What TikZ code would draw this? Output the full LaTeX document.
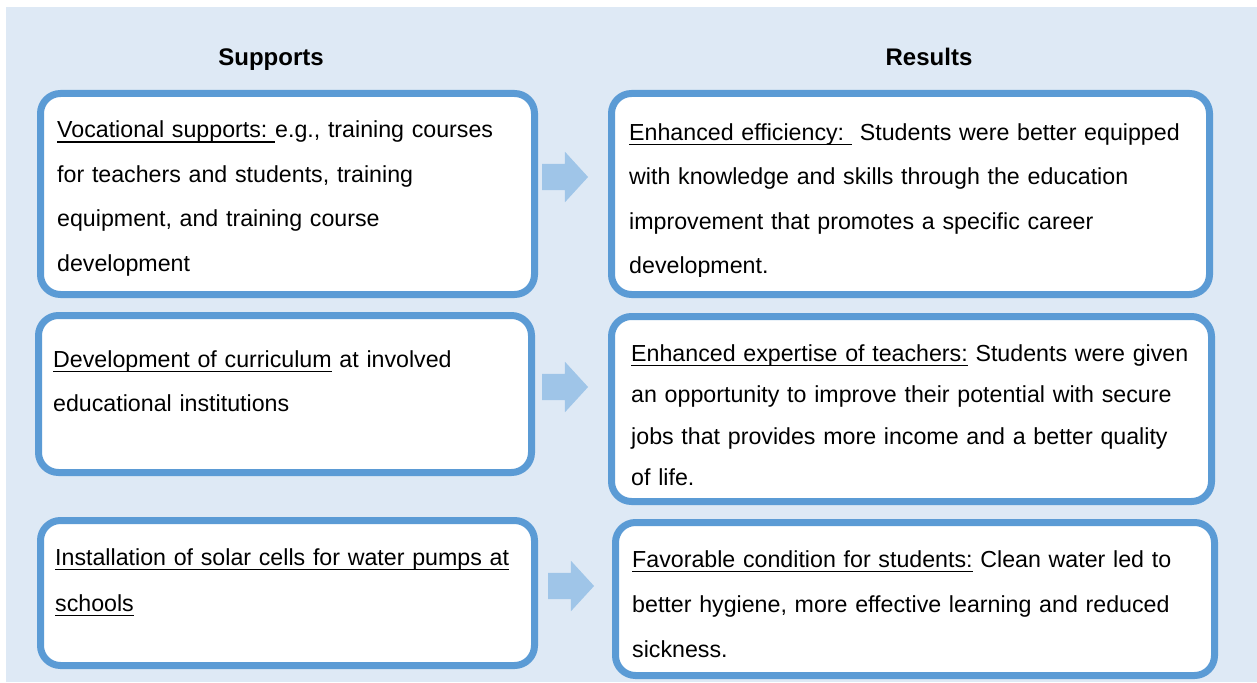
\documentclass[tikz,border=0pt]{standalone}
\usepackage{fontspec}
\setmainfont{Liberation Sans}
\usetikzlibrary{shapes.arrows}

\definecolor{panelblue}{HTML}{DEE9F5}
\definecolor{frameblue}{HTML}{5B9BD5}
\definecolor{arrowblue}{HTML}{9FC5E8}

% underline set a fixed distance below the baseline
\newsavebox{\ulnbox}
\newcommand{\uln}[1]{\leavevmode\sbox{\ulnbox}{#1}%
  \rlap{\rule[-5pt]{\wd\ulnbox}{1.3pt}}\usebox{\ulnbox}}

\tikzset{
  box/.style={draw=frameblue, line width=7pt, fill=white, rounded corners=20pt,
    anchor=north west, inner sep=0pt, outer sep=0pt},
  body/.style={anchor=base west, inner sep=0pt, align=left, text width=640pt,
    font=\fontsize{23.2}{#1}\selectfont},
  body/.default=44.5,
  heading/.style={anchor=base, font=\fontsize{24}{28}\selectfont\bfseries},
  blockarrow/.style={single arrow, fill=arrowblue, draw=none,
    inner xsep=0pt, inner ysep=13pt,
    minimum height=46pt, minimum width=50pt,
    single arrow head extend=12pt, single arrow tip angle=95}
}

\begin{document}
\begin{tikzpicture}[x=1pt,y=-1pt]

    % Page and light blue panel
    \useasboundingbox (0,0) rectangle (1257,682);
    \fill[panelblue] (6,7) rectangle (1257,682);

    % Column headings
    \node[heading] (supp) at (271,66) {Supports};
    \node[heading] (res) at (929,66) {Results};

    % Supports (left column)
    \node[box, minimum width=494, minimum height=201] (s1) at (40.5,93.5) {};
    \node[box, minimum width=493, minimum height=157] (s2) at (38.5,315.5) {};
    \node[box, minimum width=494, minimum height=145] (s3) at (40.5,520.5) {};

    % Results (right column)
    \node[box, minimum width=598, minimum height=201] (r1) at (611.5,93.5) {};
    \node[box, minimum width=600, minimum height=185] (r2) at (611.5,316.5) {};
    \node[box, minimum width=599, minimum height=153] (r3) at (615.5,522.5) {};

    % Texts of the supports
    \node[body] (s1text) at (57,137.5)
        {\uln{Vocational supports:~}e.g., training courses\\
         for teachers and students, training\\
         equipment, and training course\\
         development};
    \node[body=44] (s2text) at (53,367)
        {\uln{Development of curriculum} at involved\\
         educational institutions};
    \node[body=46] (s3text) at (55,565)
        {\uln{Installation of solar cells for water pumps at}\\
         \uln{schools}};

    % Texts of the results (last line of the first one is cut off)
    \begin{scope}
        \clip (612,97) rectangle (1206,276);
        \node[body] (r1text) at (629,140)
            {\uln{Enhanced efficiency:~}\hspace{8pt}Students were better equipped\\
             with knowledge and skills through the education\\
             improvement that promotes a specific career\\
             development.};
    \end{scope}
    \node[body=41.5] (r2text) at (631,361)
        {\uln{Enhanced expertise of teachers:} Students were given\\
         an opportunity to improve their potential with secure\\
         jobs that provides more income and a better quality\\
         of life.};
    \node[body=45] (r3text) at (632,567)
        {\uln{Favorable condition for students:} Clean water led to\\
         better hygiene, more effective learning and reduced\\
         sickness.};

    % Block arrows between the columns
    \node[blockarrow] (a1) at (559,177) {};
    \node[blockarrow] (a2) at (559,387) {};
    \node[blockarrow] (a3) at (565,586) {};

\end{tikzpicture}
\end{document}
